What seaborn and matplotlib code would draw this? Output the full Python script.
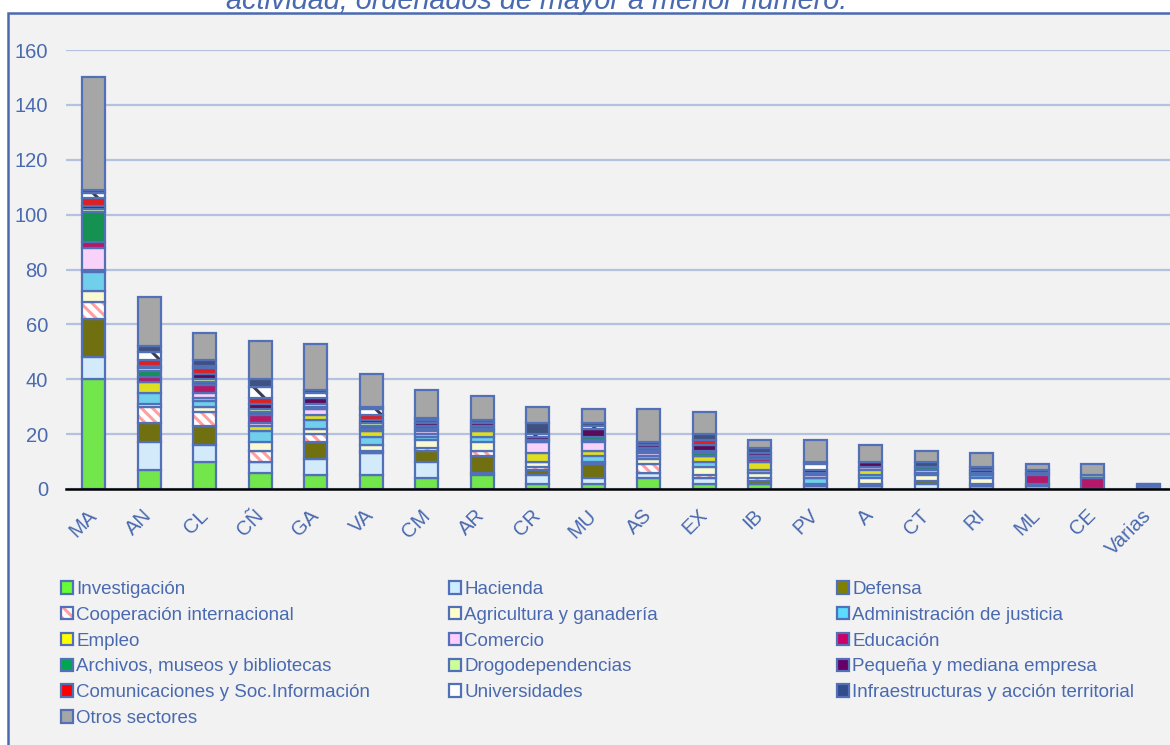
import matplotlib
matplotlib.use("Agg")
import matplotlib.pyplot as plt
from matplotlib.patches import Patch, Rectangle
from matplotlib.legend_handler import HandlerTuple
import seaborn as sns
import pandas as pd

# regions, ordered from most to fewest
regions = ["MA", "AN", "CL", "CÑ", "GA", "VA", "CM", "AR", "CR", "MU",
           "AS", "EX", "IB", "PV", "A", "CT", "RI", "ML", "CE", "Varias"]

# counts per activity sector (stack order, bottom to top)
investigacion = [40, 7, 10, 6, 5, 5, 4, 5, 2, 2, 4, 2, 2, 0, 1, 0, 1, 0, 0, 1]
hacienda = [8, 10, 6, 4, 6, 8, 6, 1, 3, 2, 2, 2, 0, 1, 1, 2, 1, 1, 0, 0]
defensa = [14, 7, 7, 0, 6, 0, 4, 6, 2, 5, 0, 0, 1, 0, 0, 1, 0, 0, 0, 0]
cooperacion = [6, 6, 5, 4, 3, 1, 1, 2, 1, 0, 3, 1, 1, 0, 0, 0, 0, 0, 0, 0]
agricultura = [4, 1, 2, 3, 2, 2, 3, 3, 2, 1, 2, 3, 2, 1, 2, 2, 2, 0, 0, 0]
justicia = [7, 4, 2, 4, 3, 3, 1, 2, 0, 2, 1, 2, 1, 2, 1, 1, 1, 1, 0, 0]
empleo = [1, 4, 1, 2, 2, 2, 1, 2, 3, 2, 0, 2, 3, 0, 2, 0, 0, 0, 0, 0]
comercio = [8, 0, 2, 1, 2, 0, 1, 0, 4, 3, 1, 0, 0, 1, 1, 1, 0, 0, 0, 0]
educacion = [2, 2, 3, 3, 0, 1, 1, 1, 0, 1, 1, 0, 1, 0, 0, 0, 0, 3, 4, 0]
archivos = [11, 2, 1, 1, 1, 1, 1, 1, 1, 1, 1, 1, 1, 1, 0, 1, 1, 1, 0, 0]
drogodependencias = [1, 1, 1, 1, 1, 1, 0, 0, 0, 0, 0, 1, 0, 0, 0, 0, 0, 0, 1, 0]
pyme = [1, 1, 2, 2, 2, 1, 1, 1, 1, 3, 1, 2, 1, 1, 2, 0, 1, 0, 0, 0]
comunicaciones = [3, 2, 2, 2, 0, 2, 1, 1, 0, 0, 0, 2, 0, 0, 0, 0, 0, 0, 0, 0]
universidades = [2, 3, 1, 4, 2, 2, 0, 0, 1, 1, 0, 0, 0, 2, 0, 0, 0, 0, 0, 0]
infraestructuras = [1, 2, 2, 3, 1, 1, 1, 0, 4, 1, 1, 2, 2, 1, 0, 2, 1, 1, 0, 1]
otros = [41, 18, 10, 14, 17, 12, 10, 9, 6, 5, 12, 8, 3, 8, 6, 4, 5, 2, 4, 0]

sector_names = ["Investigación", "Hacienda", "Defensa", "Cooperación internacional",
                "Agricultura y ganadería", "Administración de justicia", "Empleo",
                "Comercio", "Educación", "Archivos, museos y bibliotecas",
                "Drogodependencias", "Pequeña y mediana empresa",
                "Comunicaciones y Soc.Información", "Universidades",
                "Infraestructuras y acción territorial", "Otros sectores"]
sector_values = [investigacion, hacienda, defensa, cooperacion, agricultura, justicia,
                 empleo, comercio, educacion, archivos, drogodependencias, pyme,
                 comunicaciones, universidades, infraestructuras, otros]

# fill colour and optional hatch (hatch colour, shown in legend?) per sector
fills = ["#66FF33", "#CCECFF", "#808000", "white", "#FFFFCC", "#5BDBFF", "#FFFF00",
         "#FFCCFF", "#CC0066", "#00A651", "#CCFF99", "#660066", "#FF0000", "white",
         "#334C8C", "#A6A6A6"]
hatches = {3: ("\\\\\\", "#FF9F9F", True), 13: ("\\", "#3A3A55", False)}

BLUE = "#4A6AB0"
EDGE = "#5170B8"

sns.set_theme(style="white", rc={"axes.facecolor": "none", "figure.facecolor": "white"})
plt.rcParams["font.family"] = ["Liberation Sans", "DejaVu Sans"]
plt.rcParams["hatch.linewidth"] = 2.2

fig = plt.figure(figsize=(11.7, 7.45), dpi=100)

# outer chart frame (grey area with blue border)
fig.add_artist(Rectangle((8 / 1170, -0.05), 1.1, (745 - 13) / 745 + 0.05,
                         transform=fig.transFigure, facecolor="#F2F2F2",
                         edgecolor=BLUE, linewidth=1.8, zorder=-1))

# plot area, the right part runs past the cropped picture
ax = fig.add_axes([66 / 1170, (745 - 489) / 745, (1176 - 66) / 1170, (489 - 50) / 745])

bottom = pd.Series([0] * len(regions), dtype=float)
handles = []
for i, (name, vals) in enumerate(zip(sector_names, sector_values)):
    if i in hatches:
        hatch, hcolor, in_legend = hatches[i]
        # hatch layer first, then the blue outline on top
        sns.barplot(x=regions, y=vals, order=regions, bottom=bottom.values, ax=ax,
                    color="white", width=0.41, errorbar=None, hatch=hatch,
                    edgecolor=hcolor, linewidth=0)
        sns.barplot(x=regions, y=vals, order=regions, bottom=bottom.values, ax=ax,
                    color="white", facecolor="none", width=0.41, errorbar=None,
                    edgecolor=EDGE, linewidth=1.6)
        if in_legend:
            handles.append((Patch(facecolor="white", edgecolor=hcolor, hatch=hatch, linewidth=0),
                            Patch(facecolor="none", edgecolor=EDGE, linewidth=1.6)))
        else:
            handles.append(Patch(facecolor="white", edgecolor=EDGE, linewidth=1.6))
    else:
        sns.barplot(x=regions, y=vals, order=regions, bottom=bottom.values, ax=ax,
                    color=fills[i], width=0.41, errorbar=None,
                    edgecolor=EDGE, linewidth=1.6)
        handles.append(Patch(facecolor=fills[i], edgecolor=EDGE, linewidth=1.6))
    bottom += pd.Series(vals, dtype=float)

# axes styling
ax.set_xlim(-0.5, 19.5)
ax.set_ylim(0, 160)
ax.set_yticks(range(0, 161, 20))
ax.set_xlabel("")
ax.set_ylabel("")
ax.grid(axis="y", color="#B4C2E0", linewidth=1.6)
ax.set_axisbelow(True)
for side in ["left", "right", "top"]:
    ax.spines[side].set_visible(False)
ax.spines["bottom"].set_color("black")
ax.spines["bottom"].set_linewidth(1.8)
ax.tick_params(axis="y", length=0, pad=13, labelsize=14.5, labelcolor=BLUE)
ax.tick_params(axis="x", length=0, pad=17, labelsize=14.5, labelcolor=BLUE)
plt.setp(ax.get_xticklabels(), rotation=45, ha="right", va="center", rotation_mode="anchor")

# title, cut off by the top of the picture
fig.text(537 / 1170, (745 - 9) / 745, "actividad, ordenados de mayor a menor número.",
         ha="center", va="baseline", fontsize=20.8, style="italic", color=BLUE)

# legend laid out in three fixed-width columns, filled row by row
col_x = [61, 449, 837]
for c in range(3):
    idx = list(range(c, len(sector_names), 3))
    fig.legend([handles[k] for k in idx], [sector_names[k] for k in idx],
               loc="upper left", bbox_to_anchor=(col_x[c] / 1170, (745 - 581) / 745),
               frameon=False, fontsize=13.5, labelcolor=BLUE,
               handlelength=0.65, handleheight=0.65, handletextpad=0.15,
               labelspacing=0.47, borderpad=0, borderaxespad=0,
               handler_map={tuple: HandlerTuple(ndivide=1)})

fig.savefig("out.png", dpi=100)
